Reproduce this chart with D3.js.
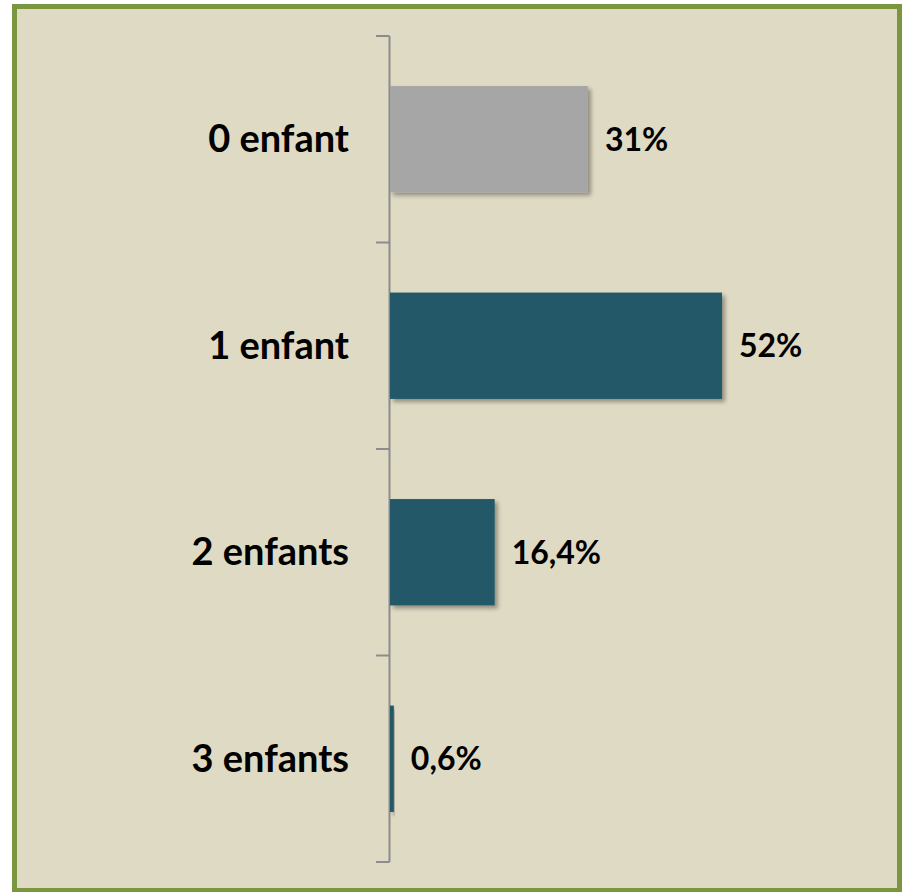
<!DOCTYPE html>
<html><head><meta charset="utf-8">
<script src="https://cdn.jsdelivr.net/npm/d3@7"></script>
<style>html,body{margin:0;padding:0;background:#fff;}svg{display:block;}</style>
</head><body>
<script>
const categories = ["0 enfant", "1 enfant", "2 enfants", "3 enfants"];
const values = [31, 52, 16.4, 0.6];
const valueLabels = ["31%", "52%", "16,4%", "0,6%"];
const barColors = ["#A6A6A6", "#215968", "#215968", "#215968"];

const W = 906, H = 892;
const svg = d3.select("body").append("svg").attr("width", W).attr("height", H);
const defs = svg.append("defs");
const f = defs.append("filter").attr("id","sh").attr("x","-10%").attr("y","-10%").attr("width","130%").attr("height","130%");
f.append("feDropShadow").attr("dx",3).attr("dy",3).attr("stdDeviation",2).attr("flood-color","#000").attr("flood-opacity",0.35);

svg.append("rect").attr("x",14.5).attr("y",6.5).attr("width",885).attr("height",884)
  .attr("fill","#DFDAC3").attr("stroke","#7A963E").attr("stroke-width",5);

const x0 = 390;
const x = d3.scaleLinear().domain([0, 52]).range([x0, 722]);
const y = d3.scaleBand().domain(categories).range([36, 862]).paddingInner(0.485).paddingOuter(0.2425);
const yTicks = d3.scaleBand().domain(categories).range([36, 862]);

const g = svg.append("g");
g.append("line").attr("x1",x0-0.5).attr("x2",x0-0.5).attr("y1",36).attr("y2",862)
  .attr("stroke","#8C8C8C").attr("stroke-width",2);
const tickYs = categories.map(c => yTicks(c)).concat([862]);
g.selectAll(".tk").data(tickYs).join("line").attr("class","tk")
  .attr("x1",376).attr("x2",x0-0.5).attr("y1",d=>d).attr("y2",d=>d)
  .attr("stroke","#8C8C8C").attr("stroke-width",2);

g.selectAll(".bar").data(categories).join("rect").attr("class","bar")
  .attr("x", x0).attr("y", c => y(c))
  .attr("width", (c,i) => x(values[i]) - x0)
  .attr("height", y.bandwidth())
  .attr("fill", (c,i) => barColors[i])
  .attr("filter","url(#sh)");

const font = "Lato, 'Open Sans', sans-serif";
g.selectAll(".cat").data(categories).join("text").attr("class","cat")
  .attr("x", 349).attr("y", c => y(c) + y.bandwidth()/2)
  .attr("dy","0.34em").attr("text-anchor","end")
  .attr("font-family", font).attr("font-weight","bold").attr("font-size", 38)
  .attr("fill","#000").text(c => c);

g.selectAll(".val").data(categories).join("text").attr("class","val")
  .attr("x", (c,i) => x(values[i]) + 17).attr("y", c => y(c) + y.bandwidth()/2)
  .attr("dy","0.36em")
  .attr("font-family", font).attr("font-weight","bold").attr("font-size", 32)
  .attr("fill","#000").text((c,i) => valueLabels[i]);
</script>
</body></html>
